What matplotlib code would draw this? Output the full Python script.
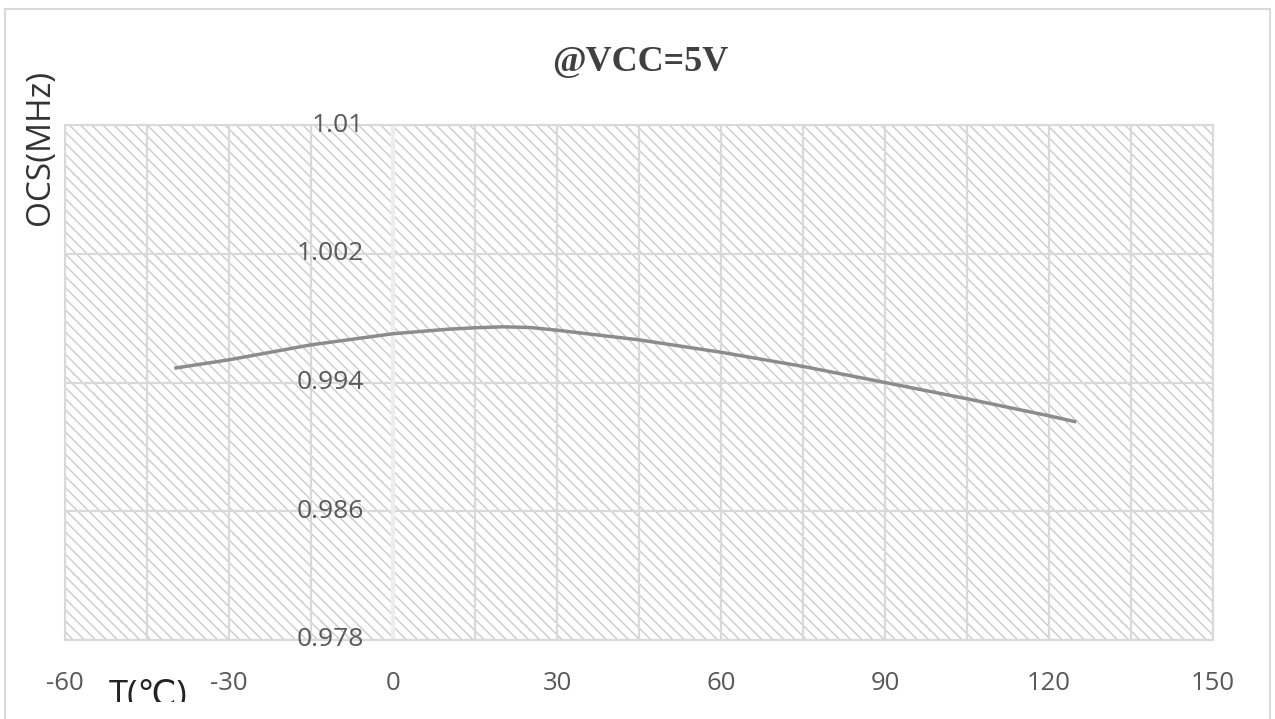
import matplotlib
matplotlib.use("Agg")
import matplotlib.pyplot as plt
from matplotlib.patches import Rectangle
from matplotlib.transforms import Bbox

# ---- data ----
temps = [-40, -30, -15, 0, 10, 15, 20, 25, 30, 45, 60, 75, 90, 105, 120, 125]
freq = [0.99489, 0.99541, 0.99634, 0.99703, 0.99731, 0.99740, 0.99746, 0.99742,
        0.99725, 0.99665, 0.99588, 0.99500, 0.99400, 0.99299, 0.99193, 0.99155]
x_grid = [-60, -45, -30, -15, 0, 15, 30, 45, 60, 75, 90, 105, 120, 135, 150]
x_labels = ["-60", "", "-30", "", "0", "", "30", "", "60", "", "90", "", "120", "", "150"]
y_ticks = [0.978, 0.986, 0.994, 1.002, 1.01]
y_labels = ["0.978", "0.986", "0.994", "1.002", "1.01"]
title = "@VCC=5V"
ylabel = "OCS(MHz)"
xlabel = "T(℃)"

W, H = 1275, 719
fig = plt.figure(figsize=(W / 100, H / 100), dpi=100)
fig.patch.set_facecolor("white")

# outer chart border
fig.add_artist(Rectangle((5 / W, -0.05), (1270 - 5) / W, 1 - 9 / H + 0.05,
                         transform=fig.transFigure, fill=False,
                         edgecolor="#d9d9d9", linewidth=1.5))

ax = fig.add_axes([65 / W, 1 - 640 / H, (1213 - 65) / W, (640 - 125) / H])
ax.set_xlim(-60, 150)
ax.set_ylim(0.978, 1.01)
ax.set_facecolor("white")

# hatched plot area
ax.add_patch(Rectangle((0, 0), 1, 1, transform=ax.transAxes, facecolor="white",
                       edgecolor="#cbcbcb", hatch="\\\\\\", linewidth=0, zorder=0))

for s in ax.spines.values():
    s.set_color("#d9d9d9")
    s.set_linewidth(1.5)

ax.set_xticks(x_grid)
ax.set_xticklabels(x_labels, fontsize=18.5, color="#595959", family=["Open Sans", "DejaVu Sans"])
ax.tick_params(axis="x", length=0, pad=22)
ax.set_yticks(y_ticks)
ax.set_yticklabels([])
ax.tick_params(axis="y", length=0)
ax.grid(True, color="#d9d9d9", linewidth=1.6, zorder=1)
ax.set_axisbelow(True)

# vertical axis line at x=0 (lighter)
ax.axvline(0, color="#ededed", linewidth=3, zorder=1.5)

for yv, lab in zip(y_ticks, y_labels):
    ax.annotate(lab, xy=(0, yv), xycoords="data", xytext=(-29, 0),
                textcoords="offset pixels", ha="right", va="center",
                fontsize=19, color="#595959", family=["Open Sans", "DejaVu Sans"],
                zorder=3, annotation_clip=False)

ax.plot(temps, freq, color="#8c8c8c", linewidth=2.5, zorder=4,
        solid_capstyle="butt")

fig.text(640 / W, 1 - 62 / H, title, ha="center", va="center", fontsize=26,
         fontweight="bold", color="#404040",
         family=["Liberation Serif", "DejaVu Serif"])
fig.text(40 / W, 1 - 147 / H, ylabel, ha="center", va="center", rotation=90,
         fontsize=24, color="#333333", family=["Open Sans", "DejaVu Sans"])
t = fig.text(148 / W, 1 - 705 / H, xlabel, ha="center", va="baseline",
             fontsize=25, color="#222222", family=["Open Sans", "DejaVu Sans"])
t.set_clip_box(Bbox.from_extents(0, 17, W, H))
t.set_clip_on(True)

fig.savefig("out.png", dpi=100)
